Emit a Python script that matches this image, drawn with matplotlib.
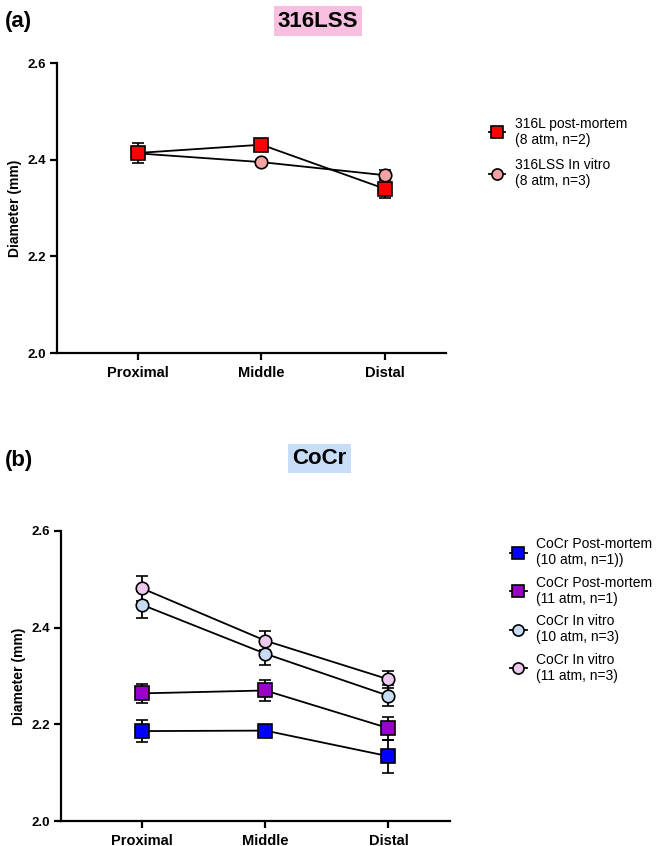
import matplotlib.pyplot as plt
from matplotlib.lines import Line2D

plt.rcParams['font.family'] = ['Liberation Sans', 'DejaVu Sans']

# categories
regions = ['Proximal', 'Middle', 'Distal']
xpos = [0, 1, 2]

# panel (a) 316LSS
ss_pm_mean = [2.414, 2.431, 2.340]
ss_pm_err = [0.020, 0.008, 0.020]
ss_iv_mean = [2.413, 2.395, 2.368]
ss_iv_err = [0.008, 0.005, 0.010]

# panel (b) CoCr
co_pm10_mean = [2.186, 2.187, 2.134]
co_pm10_err = [0.023, 0.005, 0.034]
co_pm11_mean = [2.264, 2.270, 2.192]
co_pm11_err = [0.019, 0.021, 0.024]
co_iv10_mean = [2.447, 2.346, 2.259]
co_iv10_err = [0.028, 0.023, 0.022]
co_iv11_mean = [2.481, 2.373, 2.293]
co_iv11_err = [0.025, 0.020, 0.018]

yticks = [2.0, 2.2, 2.4, 2.6]

fig = plt.figure(figsize=(6.57, 8.46), dpi=100)
ax1 = fig.add_axes([0.0868, 0.5827, 0.5922, 0.3428])
ax2 = fig.add_axes([0.0928, 0.0295, 0.5922, 0.3430])


def series(ax, y, err, marker, color, ms, label):
    ax.errorbar(xpos, y, yerr=err, color='black', lw=1.3, capsize=4.5, capthick=1.3,
                marker=marker, markersize=ms, markerfacecolor=color,
                markeredgecolor='black', markeredgewidth=1.2, zorder=3)
    return Line2D([0], [0], color='black', lw=1.3, marker=marker, markersize=ms - 1,
                  markerfacecolor=color, markeredgecolor='black', markeredgewidth=1.2,
                  label=label)


def style(ax):
    ax.set_xlim(-0.66, 2.5)
    ax.set_ylim(2.0, 2.6)
    ax.set_yticks(yticks)
    ax.set_yticklabels([f'{v:.1f}' for v in yticks], fontsize=9.5, fontweight='bold')
    ax.set_xticks(xpos)
    ax.set_xticklabels(regions, fontsize=10.5, fontweight='bold')
    ax.spines['top'].set_visible(False)
    ax.spines['right'].set_visible(False)
    ax.spines['left'].set_linewidth(1.6)
    ax.spines['bottom'].set_linewidth(1.6)
    ax.tick_params(width=1.6, length=5, pad=3)
    ax.tick_params(axis='x', pad=4)
    ax.set_ylabel('Diameter (mm)', fontsize=10, fontweight='bold', labelpad=4)


h = [series(ax1, ss_iv_mean, ss_iv_err, 'o', '#f4a3a3', 9, '316LSS In vitro\n(8 atm, n=3)'),
     series(ax1, ss_pm_mean, ss_pm_err, 's', '#ff0000', 9.5, '316L post-mortem\n(8 atm, n=2)')]
style(ax1)
ax1.legend(handles=[h[1], h[0]], loc='upper left', bbox_to_anchor=(0.725, 0.877),
           bbox_transform=fig.transFigure, frameon=False, fontsize=10,
           handlelength=1.2, handletextpad=0.7, labelspacing=0.8)

h2 = [series(ax2, co_iv11_mean, co_iv11_err, 'o', '#ecc8ee', 9, 'CoCr In vitro\n(11 atm, n=3)'),
      series(ax2, co_iv10_mean, co_iv10_err, 'o', '#c6dcf4', 9, 'CoCr In vitro\n(10 atm, n=3)'),
      series(ax2, co_pm11_mean, co_pm11_err, 's', '#9900cc', 9.5, 'CoCr Post-mortem\n(11 atm, n=1)'),
      series(ax2, co_pm10_mean, co_pm10_err, 's', '#0000ff', 9.5, 'CoCr Post-mortem\n(10 atm, n=1))')]
style(ax2)
ax2.legend(handles=[h2[3], h2[2], h2[1], h2[0]], loc='upper left', bbox_to_anchor=(0.757, 0.380),
           bbox_transform=fig.transFigure, frameon=False, fontsize=10,
           handlelength=1.2, handletextpad=0.7, labelspacing=0.6)

fig.text(0.008, 0.975, '(a)', fontsize=16, fontweight='bold', va='center', ha='left')
fig.text(0.484, 0.975, '316LSS', fontsize=16, fontweight='bold', va='center', ha='center',
         bbox=dict(facecolor='#f8bfe0', edgecolor='none', pad=3))
fig.text(0.008, 0.456, '(b)', fontsize=16, fontweight='bold', va='center', ha='left')
fig.text(0.486, 0.458, 'CoCr', fontsize=16, fontweight='bold', va='center', ha='center',
         bbox=dict(facecolor='#c8ddf7', edgecolor='none', pad=3))

fig.savefig('out.png', dpi=100)
